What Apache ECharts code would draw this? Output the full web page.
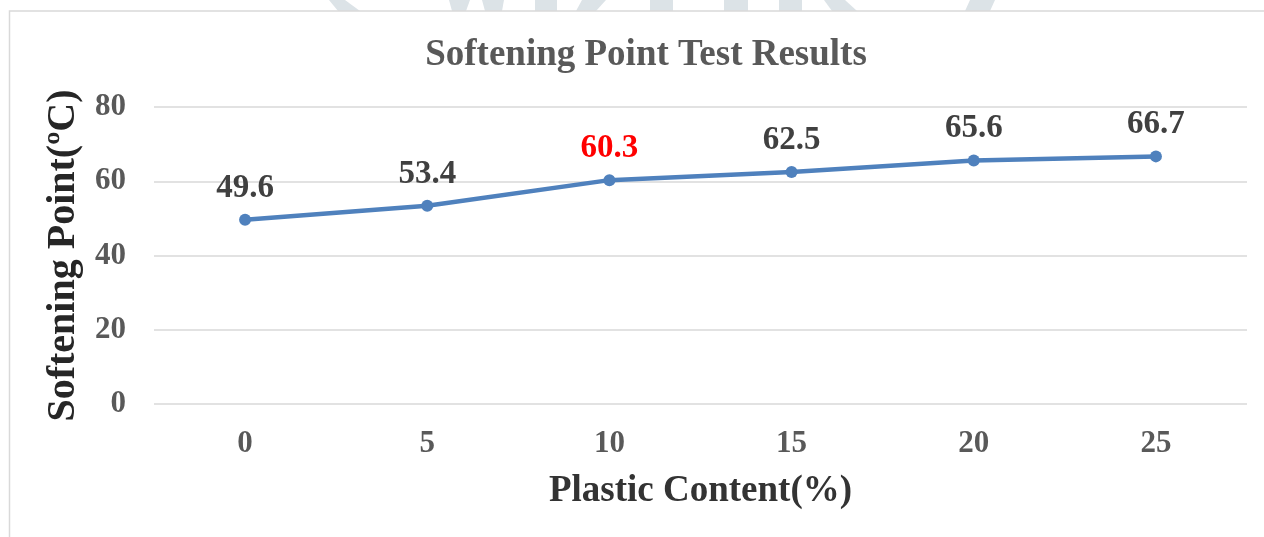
<!DOCTYPE html>
<html><head><meta charset="utf-8">
<script src="https://cdn.jsdelivr.net/npm/echarts@6/dist/echarts.min.js"></script>
<style>html,body{margin:0;padding:0;background:#fff}#c{width:1264px;height:537px}</style>
</head><body><div id="c"></div>
<script>
const categories = ['0','5','10','15','20','25'];
const values = [49.6, 53.4, 60.3, 62.5, 65.6, 66.7];
const highlightIndex = 2;
const yTicks = [0, 20, 40, 60, 80];

const FONT = '"Liberation Serif","Times New Roman",serif';
const WM = '#dce3e7';
const wmShapes = [
  [[329,0],[345,0],[360,11],[338,11]],
  [[449,0],[470,0],[466,11],[452,11]],
  [[482,0],[504,0],[502,11],[485,11]],
  [[535,0],[557,0],[557,11],[535,11]],
  [[582,0],[606,0],[596,11],[576,11]],
  [[650,0],[673,0],[673,11],[650,11]],
  [[724,0],[748,0],[748,11],[724,11]],
  [[779,0],[802,0],[802,11],[779,11]],
  [[824,0],[845,0],[857,11],[832,11]],
  [[970,0],[995,0],[990,11],[965,11]]
];
const chart = echarts.init(document.getElementById('c'), null, {renderer:'canvas'});
chart.setOption({
  backgroundColor:'#fff',
  animation:false,
  graphic:[
    {type:'rect', shape:{x:9.5,y:11,width:1300,height:600}, style:{fill:'none',stroke:'#d9d9d9',lineWidth:1.5}, z:-1}
  ].concat(wmShapes.map(p=>({type:'polygon', shape:{points:p}, style:{fill:WM}, z:-2}))),
  title:{
    text:'Softening Point Test Results',
    left:641, top:32, textAlign:'center',
    textStyle:{fontFamily:FONT, fontWeight:'bold', fontSize:37, color:'#595959'}
  },
  grid:{left:154, right:17, top:107, bottom:133, containLabel:false},
  xAxis:{
    type:'category', data:categories, boundaryGap:true,
    name:'Plastic Content(%)', nameLocation:'middle', nameGap:69,
    nameTextStyle:{fontFamily:FONT, fontWeight:'bold', fontSize:37, color:'#333'},
    axisLine:{show:false}, axisTick:{show:false},
    axisLabel:{fontFamily:FONT, fontWeight:'bold', fontSize:31, color:'#595959', margin:24}
  },
  yAxis:{
    type:'value', min:0, max:80, interval:20,
    name:'Softening Point(ºC)', nameLocation:'middle', nameGap:68,
    nameTextStyle:{fontFamily:FONT, fontWeight:'bold', fontSize:40, color:'#262626'},
    axisLine:{show:false}, axisTick:{show:false},
    splitLine:{lineStyle:{color:'#d9d9d9', width:1.5}},
    axisLabel:{fontFamily:FONT, fontWeight:'bold', fontSize:31, color:'#595959', margin:28,
      formatter:v=> yTicks.includes(v) ? String(v) : ''}
  },
  series:[{
    type:'line', data:values.map((v,i)=>({value:v,
      label: i===highlightIndex ? {color:'#ff0000'} : undefined})),
    symbol:'circle', symbolSize:12,
    lineStyle:{color:'#4f81bd', width:4.5},
    itemStyle:{color:'#4f81bd'},
    label:{show:true, position:'top', distance:9, fontFamily:FONT, fontWeight:'bold', fontSize:33, color:'#404040'}
  }]
});
</script></body></html>
